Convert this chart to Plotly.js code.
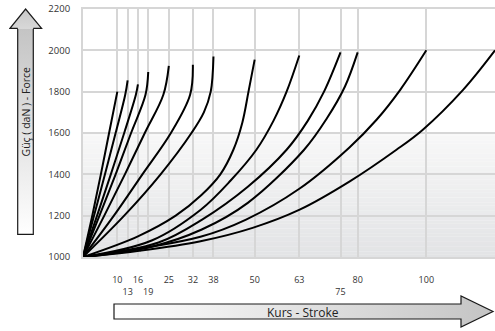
<!DOCTYPE html>
<html>
<head>
<meta charset="utf-8">
<script src="https://cdn.plot.ly/plotly-3.0.1.min.js"></script>
<style>html,body{margin:0;padding:0;background:#fff;}#chart{width:495px;height:331px;}</style>
</head>
<body>
<div id="chart"></div>
<script>
// ---- data ----
const strokes = [10, 13, 16, 19, 25, 32, 38, 50, 63, 75, 80, 100, 120];
const strokeLabels = ['10', '13', '16', '19', '25', '32', '38', '50', '63', '75', '80', '100', '120'];
const lowerRowStrokes = [13, 19, 75];
const forceTicks = [1000, 1200, 1400, 1600, 1800, 2000, 2200];

const x_10 = [0, 2.7, 5.2, 7.6, 10];
const f_10 = [1000, 1200, 1400, 1600, 1800];
const x_13 = [0, 3.2, 6.4, 9.5, 12.3, 13];
const f_13 = [1000, 1200, 1400, 1600, 1785, 1855];
const x_16 = [0, 4.1, 8.1, 12.0, 15.4, 16];
const f_16 = [1000, 1200, 1400, 1600, 1785, 1835];
const x_19 = [0, 4.8, 9.5, 14.0, 18.2, 19];
const f_19 = [1000, 1200, 1400, 1600, 1785, 1895];
const x_25 = [0, 6.2, 12.2, 18.0, 23.4, 25];
const f_25 = [1000, 1200, 1400, 1600, 1785, 1925];
const x_32 = [0, 9.0, 17.3, 25.6, 31.2, 32];
const f_32 = [1000, 1200, 1400, 1600, 1785, 1930];
const x_38 = [0, 12.0, 22.6, 31.6, 35.2, 37.2, 38];
const f_38 = [1000, 1200, 1400, 1600, 1700, 1800, 1970];
const x_50 = [0, 16, 27, 34.5, 40, 43.8, 46.4, 48.2, 50];
const f_50 = [1000, 1100, 1200, 1300, 1400, 1519, 1650, 1800, 1955];
const x_63 = [0, 20, 34.3, 43, 50.5, 55.5, 59.3, 63];
const f_63 = [1000, 1080, 1229, 1370, 1519, 1660, 1800, 1975];
const x_75 = [0, 22, 34.7, 48, 59.3, 65.5, 70.2, 75];
const f_75 = [1000, 1070, 1181, 1340, 1519, 1660, 1800, 1990];
const x_80 = [0, 20, 34.6, 48, 64.4, 71, 76.3, 80];
const f_80 = [1000, 1050, 1133, 1262, 1519, 1670, 1825, 1990];
const x_100 = [0, 34.2, 47.5, 63, 77.6, 85.5, 92.4, 100];
const f_100 = [1000, 1098, 1181, 1330, 1530, 1664, 1809, 2000];
const x_120 = [0, 16.4, 33.9, 49.4, 63.1, 77.7, 91.3, 98.9, 110.7, 120];
const f_120 = [1000, 1030, 1075, 1141, 1229, 1366, 1519, 1615, 1809, 2000];

const curveX = [x_10, x_13, x_16, x_19, x_25, x_32, x_38, x_50, x_63, x_75, x_80, x_100, x_120];
const curveF = [f_10, f_13, f_16, f_19, f_25, f_32, f_38, f_50, f_63, f_75, f_80, f_100, f_120];

// ---- traces ----
const traces = curveX.map((xs, i) => ({
  type: 'scatter', mode: 'lines', x: xs, y: curveF[i],
  line: {color: '#000000', width: 2, shape: 'spline', smoothing: 1},
  hoverinfo: 'skip', showlegend: false
}));

const tickText = strokeLabels.map((t, i) => lowerRowStrokes.indexOf(strokes[i]) >= 0 ? '<br>' + t : t);

// ---- background gradient bands (decoration) ----
const shapes = [];
const N = 48, yLo = 1000, yHi = 1600;
const cBot = [226, 227, 229], cTop = [248, 248, 248];
for (let i = 0; i < N; i++) {
  const t = (i + 0.5) / N;
  const c = cBot.map((v, k) => Math.round(v + (cTop[k] - v) * t));
  shapes.push({type: 'rect', xref: 'paper', yref: 'y', layer: 'below',
    x0: 0, x1: 1, y0: yLo + (yHi - yLo) * i / N, y1: yLo + (yHi - yLo) * (i + 1) / N + 1,
    fillcolor: 'rgb(' + c.join(',') + ')', line: {width: 0}});
}

// ---- arrow decorations as SVG images ----
const L = 83, R = 495, T = 9, B = 257, W = R - L, H = B - T;
const px = v => (v - L) / W, py = v => (B - v) / H;

const leftSvg = '<svg xmlns="http://www.w3.org/2000/svg" width="34" height="228" viewBox="0 0 34 228">' +
  '<defs><linearGradient id="g" x1="0" y1="0" x2="0" y2="1">' +
  '<stop offset="0" stop-color="#c4c4c4"/><stop offset="1" stop-color="#ffffff"/></linearGradient>' +
  '<linearGradient id="h" x1="0" y1="0" x2="0" y2="1">' +
  '<stop offset="0" stop-color="#c8c8c8"/><stop offset="1" stop-color="#d8d8d8"/></linearGradient></defs>' +
  '<path d="M8.7,20.3 L8.7,226.4 L24.3,226.4 L24.3,20.3 Z" fill="url(#g)" stroke="#1a1a1a" stroke-width="1.2"/>' +
  '<path d="M16.6,1 L32.6,20.3 L24.3,20.3 L24.3,21 L8.7,21 L8.7,20.3 L1,20.3 Z" fill="url(#h)" stroke="none"/>' +
  '<path d="M8.7,20.3 L1,20.3 L16.6,1 L32.6,20.3 L24.3,20.3" fill="none" stroke="#1a1a1a" stroke-width="1.2"/>' +
  '</svg>';

const bottomSvg = '<svg xmlns="http://www.w3.org/2000/svg" width="382" height="33" viewBox="0 0 382 33">' +
  '<defs><linearGradient id="g" x1="0" y1="0" x2="1" y2="0">' +
  '<stop offset="0" stop-color="#ffffff"/><stop offset="1" stop-color="#c4c4c4"/></linearGradient></defs>' +
  '<path d="M1,9 L348,9 L348,1 L380,16.5 L348,32 L348,24 L1,24 Z" fill="url(#g)" stroke="#1a1a1a" stroke-width="1.2"/>' +
  '</svg>';

const svgUri = s => 'data:image/svg+xml;charset=utf-8,' + encodeURIComponent(s);

const images = [
  {source: svgUri(leftSvg), xref: 'paper', yref: 'paper', x: px(9), y: py(8),
   sizex: 34 / W, sizey: 228 / H, xanchor: 'left', yanchor: 'top', sizing: 'stretch', layer: 'above'},
  {source: svgUri(bottomSvg), xref: 'paper', yref: 'paper', x: px(113), y: py(295),
   sizex: 382 / W, sizey: 33 / H, xanchor: 'left', yanchor: 'top', sizing: 'stretch', layer: 'above'}
];

const annotations = [
  {text: 'Güç ( daN ) - Force', xref: 'paper', yref: 'paper', x: px(25.5), y: py(112),
   textangle: -90, showarrow: false, xanchor: 'center', yanchor: 'middle',
   font: {family: 'Open Sans, sans-serif', size: 10.5, color: '#222'}},
  {text: 'Kurs - Stroke', xref: 'paper', yref: 'paper', x: px(303), y: py(312),
   showarrow: false, xanchor: 'center', yanchor: 'middle',
   font: {family: 'Open Sans, sans-serif', size: 12, color: '#222'}}
];

const layout = {
  width: 495, height: 331,
  margin: {l: L, r: 0, t: T, b: 331 - B, pad: 0},
  paper_bgcolor: '#ffffff', plot_bgcolor: '#ffffff',
  showlegend: false,
  font: {family: 'Open Sans, sans-serif', color: '#333'},
  xaxis: {
    range: [0, 120], tickmode: 'array', tickvals: strokes, ticktext: tickText, tickangle: 0,
    showgrid: true, gridcolor: '#d6d6d6', gridwidth: 2, zeroline: false,
    showline: true, linecolor: '#d6d6d6', linewidth: 2, mirror: true,
    ticks: 'outside', ticklen: 13, tickcolor: 'rgba(0,0,0,0)',
    tickfont: {family: 'Open Sans, sans-serif', size: 9, color: '#333'},
    fixedrange: true
  },
  yaxis: {
    range: [1000, 2200], tickmode: 'array', tickvals: forceTicks,
    showgrid: true, gridcolor: '#d6d6d6', gridwidth: 2, zeroline: false,
    showline: true, linecolor: '#d6d6d6', linewidth: 2, mirror: true,
    ticks: 'outside', ticklen: 9, tickcolor: 'rgba(0,0,0,0)',
    tickfont: {family: 'Open Sans, sans-serif', size: 9.5, color: '#333'},
    fixedrange: true
  },
  shapes: shapes,
  images: images,
  annotations: annotations
};

Plotly.newPlot('chart', traces, layout, {staticPlot: true, displayModeBar: false});
</script>
</body>
</html>
